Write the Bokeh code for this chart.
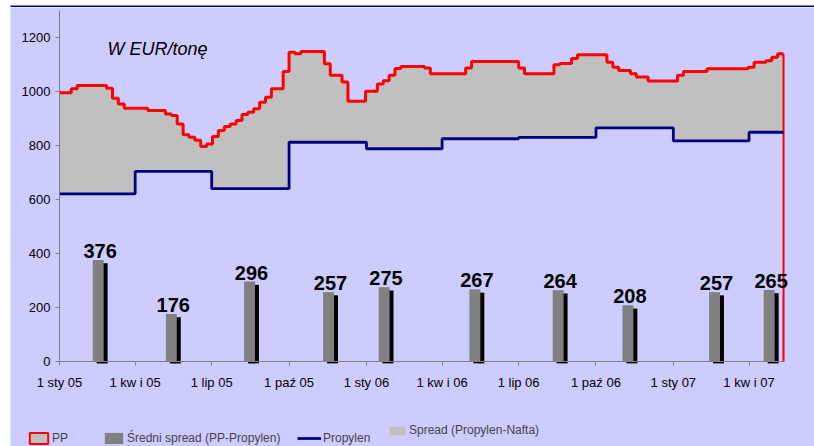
import pandas as pd
from bokeh.plotting import figure
from bokeh.layouts import row, column
from bokeh.models import (ColumnDataSource, Range1d, FixedTicker, CustomJSTickFormatter,
                          Legend, LegendItem, Label, Spacer)
from bokeh.core.properties import value
from bokeh.embed import file_html
from bokeh.resources import INLINE

# ---------------- data ----------------
pp_first_week = "2005-01-01"
pp_values = [995, 995, 1010, 1022, 1022, 1022, 1022, 1022, 1012, 975,
             954, 938, 938, 938, 938, 930, 930, 930, 917, 911,
             880, 840, 831, 819, 796, 806, 833, 856, 870, 880,
             893, 915, 923, 936, 960, 979, 1010, 1010, 1074, 1145,
             1140, 1148, 1148, 1148, 1148, 1103, 1060, 1060, 1035, 964,
             964, 964, 1001, 1001, 1028, 1040, 1060, 1085, 1093, 1093,
             1093, 1093, 1087, 1066, 1066, 1066, 1066, 1066, 1066, 1087,
             1111, 1111, 1111, 1111, 1111, 1111, 1111, 1111, 1087, 1066,
             1066, 1066, 1066, 1066, 1099, 1104, 1104, 1122, 1136, 1136,
             1136, 1136, 1136, 1108, 1090, 1078, 1078, 1066, 1054, 1054,
             1039, 1039, 1039, 1039, 1039, 1060, 1074, 1074, 1074, 1074,
             1084, 1084, 1084, 1084, 1084, 1084, 1084, 1090, 1108, 1108,
             1114, 1127, 1140, 1140]

propylen_dates = ["2005-01-01", "2005-04-01", "2005-07-01", "2005-10-01", "2006-01-01",
                  "2006-04-01", "2006-07-01", "2006-10-01", "2007-01-01", "2007-04-01"]
propylen_values = [621, 704, 640, 812, 788, 825, 830, 865, 817, 849]

spread_dates = ["2005-02-16", "2005-05-14", "2005-08-15", "2005-11-17", "2006-01-22",
                "2006-05-10", "2006-08-17", "2006-11-08", "2007-02-19", "2007-04-25"]
spread_values = [376, 176, 296, 257, 275, 267, 264, 208, 257, 265]

tick_dates = ["2005-01-01", "2005-04-01", "2005-07-01", "2005-10-01", "2006-01-01",
              "2006-04-01", "2006-07-01", "2006-10-01", "2007-01-01", "2007-04-01"]
tick_labels = ["1 sty 05", "1 kw i 05", "1 lip 05", "1 paź 05", "1 sty 06",
               "1 kw i 06", "1 lip 06", "1 paź 06", "1 sty 07", "1 kw i 07"]
y_ticks = [0, 200, 400, 600, 800, 1000, 1200]
y_top = 1300

# ---------------- layout / styles ----------------
BG = "#CCCCFF"
NAVY = "#000080"
FONT = "Liberation Sans"
DAY_MS = 86400000
W, H = 804, 439              # main figure size
AX_LEFT, AX_RIGHT = 49, 773  # pixel x of y-axis and of data end inside the figure
ZERO_Y, TOP_Y = 354, 3       # pixel y (from top) of value 0 and of y_top

pp_dates = pd.date_range(pp_first_week, periods=len(pp_values), freq="7D")
end_date = pp_dates[-1]
start_date = pd.Timestamp(tick_dates[0])
ms = lambda t: pd.Timestamp(t).timestamp() * 1000.0

span_ms = ms(end_date) - ms(start_date)
px_ms = span_ms / (AX_RIGHT - AX_LEFT)
px_val = y_top / (ZERO_Y - TOP_Y)
x_range = Range1d(ms(start_date) - AX_LEFT * px_ms, ms(end_date) + (W - AX_RIGHT) * px_ms)
y_range = Range1d(-(H - ZERO_Y) * px_val, ZERO_Y * px_val)

p = figure(width=W, height=H, x_axis_type="datetime", output_backend="svg",
           toolbar_location=None, x_range=x_range, y_range=y_range,
           background_fill_color=BG, border_fill_color=BG, outline_line_color=None,
           min_border=0)
p.grid.visible = False

# PP area (grey) and lavender cover below Propylen
pp_src = ColumnDataSource(dict(x=pp_dates, y=pp_values, base=[0] * len(pp_values)))
pp_area = p.varea_step(x="x", y1="base", y2="y", step_mode="after", source=pp_src,
                       fill_color="#C0C0C0")

prop_x = list(pd.to_datetime(propylen_dates)) + [end_date]
prop_y = propylen_values + [propylen_values[-1]]
prop_src = ColumnDataSource(dict(x=prop_x, y=prop_y, base=[0] * len(prop_y)))
p.varea_step(x="x", y1="base", y2="y", step_mode="after", source=prop_src, fill_color=BG)

# bars with shadow
bar_x = pd.to_datetime(spread_dates)
bar_src = ColumnDataSource(dict(
    x=bar_x, top=spread_values,
    sx=bar_x + pd.Timedelta(hours=113),
    stop=[v - 12 for v in spread_values],
    lx=bar_x + pd.Timedelta(hours=55),
    label=[str(v) for v in spread_values]))
p.vbar(x="sx", top="stop", bottom=-7, width=13 * DAY_MS, source=bar_src,
       fill_color="black", line_color=None)
bars = p.vbar(x="x", top="top", bottom=0, width=13 * DAY_MS, source=bar_src,
              fill_color="#808080", line_color=None)

# axes (fixed at the data origin so the frame fills the figure)
p.xaxis.fixed_location = 0
p.yaxis.fixed_location = ms(start_date)
p.xaxis.bounds = (ms(start_date), ms(end_date))
p.yaxis.bounds = (0, y_top)
tick_ms = [ms(d) for d in tick_dates]
p.xaxis.ticker = FixedTicker(ticks=tick_ms)
p.xaxis.formatter = CustomJSTickFormatter(
    args=dict(tick_list=tick_ms, label_list=tick_labels),
    code="const i = tick_list.indexOf(tick); return i < 0 ? '' : label_list[i];")
p.yaxis.ticker = FixedTicker(ticks=y_ticks)
for ax in (p.xaxis[0], p.yaxis[0]):
    ax.axis_line_color = "#808080"
    ax.major_tick_line_color = "#808080"
    ax.major_tick_in = 0
    ax.major_tick_out = 4
    ax.minor_tick_line_color = None
    ax.major_label_text_font = FONT
    ax.major_label_text_font_size = "13px"
    ax.major_label_text_color = "black"
p.xaxis.major_label_standoff = 9
p.yaxis.major_label_standoff = 5

# PP outline
p.line(x=[start_date, end_date], y=[0, 0], line_color="#FF0000", line_width=1.2)
p.line(x=[end_date, end_date], y=[pp_values[-1], 0], line_color="#FF0000", line_width=2)
p.step(x="x", y="y", mode="after", source=pp_src, line_color="#FF0000", line_width=3)

prop_line = p.step(x="x", y="y", mode="after", source=prop_src, line_color=NAVY,
                   line_width=2.8)

# bar labels
p.text(x="lx", y="top", text="label", source=bar_src, text_font=value(FONT),
       text_font_size="20px", text_font_style="bold", text_align="center",
       text_baseline="alphabetic", y_offset=-9, text_color="black")

p.add_layout(Label(x=97, y=398, x_units="screen", y_units="screen", text="W EUR/tonę",
                   text_font=FONT, text_font_size="18px", text_font_style="italic",
                   text_baseline="alphabetic", text_color="black"))

# legend key for PP: a swatch only (no drawable data point)
nan = float("nan")
pp_key = p.quad(left=[nan], right=[nan], top=[nan], bottom=[nan], fill_color="#C0C0C0",
                line_color="#FF0000", line_width=2)


def add_legend(label, renderer, x, y, gw, gh):
    lg = Legend(items=[LegendItem(label=label, renderers=[renderer])], location=(x, y),
                background_fill_alpha=0, border_line_color=None, padding=0, margin=0,
                spacing=0, glyph_width=gw, glyph_height=gh, label_standoff=2,
                label_text_font=FONT, label_text_font_size="12px", label_height=gh)
    p.add_layout(lg)


add_legend("PP", pp_key, 17, 1, 23, 14)
add_legend("Średni spread (PP-Propylen)", bars, 92, 1, 23, 14)
add_legend("Propylen", prop_line, 287, 1, 24, 14)
add_legend("Spread (Propylen-Nafta)", pp_area, 377, 9, 20, 11)

# navy strip on top of the chart
bar_top = figure(width=W, height=7, toolbar_location=None, output_backend="svg",
                 min_border=0, background_fill_color=NAVY, border_fill_color=NAVY,
                 outline_line_color=None, x_axis_location=None, y_axis_location=None)
bar_top.grid.visible = False

page = row(Spacer(width=10, height=H + 7), column(bar_top, p))
open("out.html", "w").write(file_html(page, INLINE))
